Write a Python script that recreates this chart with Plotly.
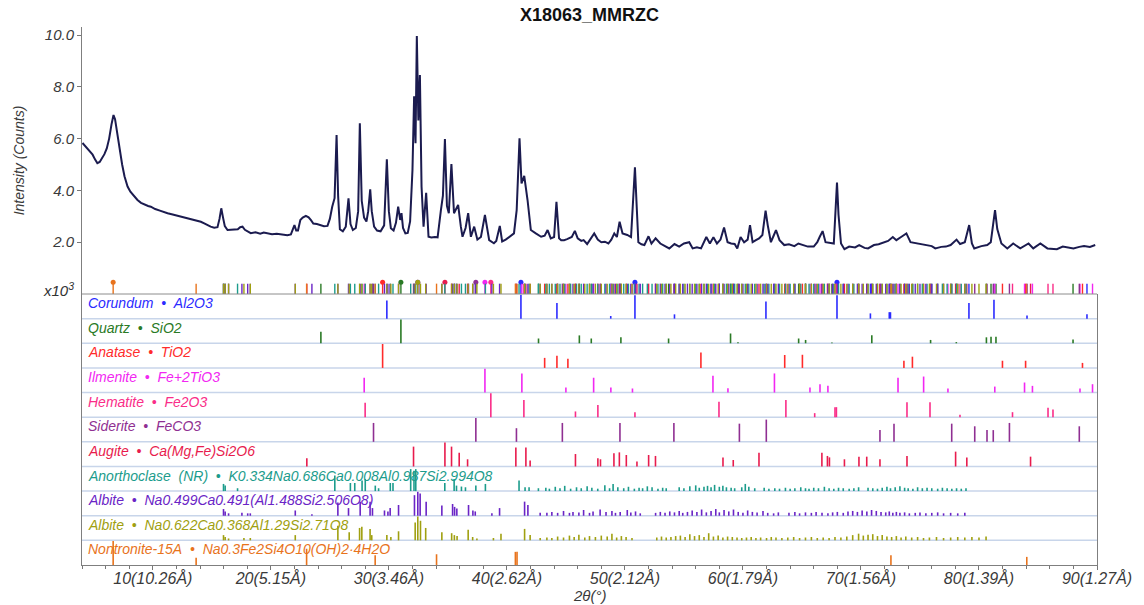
import plotly.graph_objects as go

# ---------------- measured pattern (2theta deg, counts x1000) ----------------
two_theta = [4.04, 4.3, 4.6, 4.9, 5.1, 5.3, 5.5, 5.7, 5.9, 6.1, 6.3, 6.5, 6.67, 6.8, 7.0, 7.2, 7.4, 7.6, 7.86,
             8.1, 8.4, 8.7, 9.0, 9.3, 9.6, 9.83, 10.2, 10.6, 11.0, 11.25, 11.6, 12.0, 12.3, 12.6, 13.0, 13.4,
             13.8, 14.07, 14.4, 14.7, 14.9, 15.2, 15.48, 15.65, 15.8, 15.95, 16.1, 16.33, 16.6, 16.9, 17.2,
             17.4, 17.6, 17.8, 18.0, 18.3, 18.7, 19.1, 19.4, 19.7, 20.1, 20.5, 20.85, 21.1, 21.4, 21.7, 21.85,
             22.0, 22.15, 22.3, 22.5, 22.7, 22.97, 23.2, 23.4, 23.6, 23.9, 24.2, 24.5, 24.8, 25.0, 25.2, 25.4,
             25.57, 25.7, 25.85, 26.1, 26.35, 26.58, 26.75, 26.95, 27.2, 27.4, 27.54, 27.7, 27.9, 28.1, 28.25,
             28.42, 28.55, 28.75, 29.0, 29.3, 29.6, 29.83, 30.0, 30.17, 30.4, 30.6, 30.79, 30.96, 31.07, 31.2,
             31.4, 31.6, 31.8, 32.0, 32.14, 32.26, 32.37, 32.5, 32.63, 32.77, 32.94, 33.16, 33.36, 33.6, 33.9,
             34.13, 34.41, 34.58, 34.75, 34.92, 35.08, 35.3, 35.52, 35.72, 35.87, 36.1, 36.24, 36.5, 36.72,
             36.95, 37.23, 37.5, 37.8, 38.14, 38.5, 38.9, 39.1, 39.4, 39.6, 39.9, 40.2, 40.6, 40.83, 41.07,
             41.24, 41.47, 41.75, 42.03, 42.45, 42.9, 43.2, 43.45, 43.72, 44.0, 44.2, 44.42, 44.6, 44.85, 45.1,
             45.5, 45.76, 46.0, 46.3, 46.5, 46.8, 47.1, 47.4, 47.7, 48.0, 48.3, 48.6, 48.85, 49.1, 49.32, 49.55,
             49.8, 50.2, 50.52, 50.85, 51.0, 51.14, 51.4, 51.65, 52.0, 52.25, 52.6, 53.0, 53.4, 53.76, 54.2,
             54.6, 55.0, 55.45, 55.74, 56.1, 56.45, 56.9, 57.2, 57.5, 57.8, 58.1, 58.4, 58.7, 59.0, 59.3,
             59.52, 59.8, 60.1, 60.4, 60.6, 60.82, 61.1, 61.37, 61.65, 61.92, 62.1, 62.37, 62.6, 62.8, 63.1,
             63.5, 63.9, 64.36, 64.7, 65.1, 65.5, 66.0, 66.3, 66.5, 66.75, 67.0, 67.4, 67.7, 67.97, 68.1,
             68.31, 68.6, 69.0, 69.5, 69.85, 70.3, 70.6, 71.1, 71.5, 71.95, 72.3, 72.7, 73.0, 73.4, 73.85,
             74.2, 74.9, 75.4, 76.0, 76.3, 76.8, 77.2, 77.6, 78.1, 78.4, 78.8, 79.17, 79.4, 79.6, 80.2, 80.7,
             81.0, 81.36, 81.55, 81.9, 82.4, 82.9, 83.5, 84.2, 84.6, 85.2, 85.8, 86.6, 87.1, 87.7, 88.0, 88.5,
             88.9, 89.4, 89.85]
counts_k = [5.83, 5.70, 5.52, 5.38, 5.20, 5.05, 5.10, 5.25, 5.40, 5.62, 6.00, 6.55, 6.91, 6.75, 6.10, 5.45, 5.00,
            4.55, 4.15, 3.95, 3.78, 3.63, 3.52, 3.45, 3.40, 3.37, 3.28, 3.22, 3.15, 3.12, 3.08, 3.03, 3.00, 2.98,
            2.93, 2.87, 2.83, 2.79, 2.72, 2.64, 2.60, 2.56, 2.58, 2.90, 3.31, 2.95, 2.62, 2.47, 2.48, 2.47, 2.50,
            2.58, 2.60, 2.48, 2.42, 2.35, 2.38, 2.33, 2.37, 2.35, 2.31, 2.33, 2.30, 2.28, 2.27, 2.30, 2.45, 2.66,
            2.45, 2.45, 2.86, 2.95, 3.02, 2.96, 2.85, 2.72, 2.70, 2.66, 2.62, 2.63, 2.90, 3.37, 3.70, 6.14, 3.80,
            2.50, 2.42, 2.60, 3.69, 2.70, 2.47, 2.55, 3.20, 6.59, 3.60, 2.95, 2.80, 3.20, 4.04, 3.20, 2.60, 2.45,
            2.42, 2.65, 5.20, 3.20, 2.54, 2.45, 2.75, 3.37, 2.86, 3.12, 2.55, 2.34, 2.36, 2.80, 4.79, 7.64, 5.82,
            9.96, 6.70, 8.46, 4.14, 2.60, 3.91, 2.21, 2.18, 2.20, 2.19, 3.24, 3.80, 5.98, 3.40, 3.12, 5.02, 3.12,
            3.30, 3.44, 2.60, 2.21, 2.55, 3.12, 2.21, 2.60, 2.10, 2.20, 3.05, 2.08, 1.96, 2.05, 2.63, 2.03, 2.10,
            2.20, 2.34, 3.24, 6.01, 4.27, 4.56, 3.63, 2.47, 2.34, 2.21, 2.25, 2.47, 2.15, 2.20, 3.56, 2.15, 2.08,
            2.08, 2.12, 2.20, 2.44, 2.15, 2.05, 2.08, 1.93, 2.15, 2.34, 2.10, 2.00, 2.02, 1.95, 2.10, 2.34, 2.20,
            2.79, 2.34, 2.28, 2.20, 4.89, 3.37, 2.00, 1.92, 1.89, 2.23, 1.95, 2.15, 1.95, 1.85, 1.76, 1.93, 1.83,
            1.95, 2.00, 1.76, 1.80, 1.76, 2.20, 1.95, 2.19, 1.95, 2.10, 2.57, 2.00, 1.95, 1.93, 1.76, 2.20, 2.00,
            2.10, 2.66, 2.00, 2.08, 2.15, 2.28, 3.22, 2.66, 2.00, 2.25, 2.47, 2.08, 1.89, 1.92, 1.85, 1.95, 1.88,
            1.83, 1.83, 2.00, 2.20, 2.43, 2.00, 1.98, 1.95, 4.30, 3.05, 1.95, 1.73, 1.83, 1.80, 1.89, 1.78, 1.76,
            1.89, 1.92, 2.00, 2.05, 2.20, 2.08, 2.20, 2.34, 2.00, 1.95, 1.89, 1.85, 1.76, 1.82, 1.83, 1.89, 2.10,
            1.93, 2.00, 2.66, 1.95, 1.76, 1.85, 1.89, 2.00, 3.24, 2.51, 1.95, 1.76, 1.95, 1.76, 1.95, 1.76, 1.95,
            1.76, 1.73, 1.83, 1.80, 1.76, 1.82, 1.85, 1.82, 1.89]

# ---------------- reference phase lines (2theta, relative intensity %) ----------------
corundum_2t = [29.83, 41.19, 44.24, 48.8, 50.85, 54.2, 61.95, 67.97, 70.8, 72.4, 72.5, 79.15, 81.27, 84.07, 89.15]
corundum_i = [76, 100, 65, 11, 98, 18, 72, 98, 22, 27, 27, 65, 79, 13, 18]

quartz_2t = [24.24, 31.02, 42.68, 46.14, 47.15, 49.66, 53.7, 58.95, 59.58, 64.72, 65.31, 67.54, 70.92, 75.9,
             78.08, 80.63, 81.02, 81.44, 87.97]
quartz_i = [48, 100, 20, 33, 20, 25, 20, 41, 4, 20, 14, 3, 34, 14, 5, 25, 27, 27, 16]

anatase_2t = [29.47, 43.2, 44.24, 45.17, 56.44, 63.54, 65.04, 73.64, 74.36, 81.99, 83.95, 88.77]
anatase_i = [100, 42, 51, 38, 65, 54, 55, 30, 47, 30, 30, 21]

ilmenite_2t = [27.91, 38.14, 41.27, 45.0, 47.35, 48.81, 50.64, 57.46, 58.73, 62.67, 65.68, 66.53, 67.2, 73.14,
               75.31, 77.37, 81.34, 83.86, 84.53, 88.56, 89.62]
ilmenite_i = [62, 100, 80, 21, 62, 21, 17, 70, 18, 80, 21, 35, 28, 62, 67, 17, 25, 42, 28, 17, 35]

hematite_2t = [27.99, 38.64, 41.44, 45.81, 47.71, 50.85, 57.97, 63.64, 66.08, 67.8, 67.92, 73.9, 75.85, 78.39,
               82.84, 85.85, 86.27]
hematite_i = [60, 100, 72, 24, 51, 21, 65, 72, 17, 42, 42, 62, 62, 10, 21, 39, 32]

siderite_2t = [28.70, 37.37, 40.81, 44.7, 49.58, 54.15, 59.7, 61.98, 71.61, 72.8, 77.69, 79.64, 80.68, 81.21,
               82.58, 88.5]
siderite_i = [79, 100, 57, 79, 79, 79, 76, 93, 49, 76, 76, 65, 49, 49, 79, 65]

augite_2t = [23.05, 32.09, 34.75, 35.31, 35.96, 36.67, 40.76, 41.61, 41.97, 45.81, 47.71, 47.93, 49.07, 49.53,
             50.12, 51.02, 52.01, 52.59, 58.31, 59.18, 61.36, 66.69, 67.16, 67.33, 68.6, 69.83, 70.49, 71.61,
             73.9, 78.02, 78.97, 84.37]
augite_i = [34, 83, 100, 83, 57, 30, 79, 79, 25, 52, 34, 30, 55, 59, 48, 21, 48, 44, 38, 27, 57, 57, 44, 38,
            30, 41, 41, 30, 44, 62, 38, 41]

anorthoclase_2t = [15.99, 16.13, 17.18, 25.42, 26.74, 27.11, 27.73, 28.0, 28.85, 29.13, 30.12, 30.35, 31.85,
                   32.13, 32.28, 34.74, 35.53, 35.73, 36.15, 36.49, 37.37, 38.18, 41.03, 41.54, 41.88, 42.67,
                   43.3, 43.6, 44.1, 44.5, 44.9, 45.4, 45.9, 46.3, 46.8, 47.2, 47.7, 48.3, 48.7, 49.0, 49.4,
                   49.9, 50.3, 50.8, 51.2, 51.5, 51.9, 52.3, 52.8, 53.2, 53.5, 54.6, 55.0, 55.5, 56.0, 56.3,
                   56.7, 57.0, 57.3, 57.6, 58.0, 58.3, 58.6, 59.0, 59.3, 59.9, 60.2, 60.5, 61.0, 61.8, 62.2,
                   62.7, 63.1, 63.6, 64.0, 64.4, 64.9, 65.3, 65.6, 66.0, 66.4, 66.9, 67.3, 67.7, 68.1, 68.5,
                   69.0, 69.4, 69.8, 70.6, 71.0, 71.4, 71.8, 72.2, 72.5, 72.9, 73.3, 73.7, 74.0, 74.4, 74.8,
                   75.2, 75.6, 76.0, 76.5, 76.9, 77.3, 77.7, 78.1, 78.5, 78.9, 79.3]
anorthoclase_i = [30, 23, 12, 65, 34, 34, 44, 51, 23, 12, 34, 34, 92, 85, 92, 34, 51, 23, 19, 16, 23, 30, 44,
                  16, 16, 12, 14, 10, 18, 12, 22, 10, 16, 12, 20, 14, 10, 24, 12, 30, 16, 12, 18, 10, 14, 12,
                  20, 16, 10, 14, 12, 16, 12, 20, 24, 14, 18, 22, 16, 26, 18, 22, 16, 14, 12, 16, 30, 18, 12,
                  14, 10, 12, 10, 14, 10, 12, 16, 12, 10, 14, 12, 18, 12, 10, 14, 12, 10, 12, 16, 14, 12, 10,
                  14, 18, 12, 16, 20, 14, 12, 10, 16, 12, 14, 12, 10, 14, 12, 10, 12, 10, 12]

albite1_2t = [15.99, 16.13, 16.42, 17.55, 18.04, 18.26, 22.07, 23.48, 25.68, 26.58, 27.57, 28.41, 28.61, 29.63,
              29.92, 30.11, 30.82, 32.17, 32.45, 32.65, 33.16, 34.49, 35.4, 35.57, 35.76, 36.75, 37.12, 37.32,
              38.73, 39.38, 41.5, 41.78, 42.82, 43.39, 43.81, 44.3, 44.8, 45.3, 45.6, 46.1, 46.5, 47.0, 47.3,
              47.9, 48.4, 48.9, 49.2, 49.6, 50.2, 50.5, 50.9, 51.3, 52.6, 53.0, 53.4, 53.8, 54.2, 54.6, 54.9,
              55.3, 55.7, 56.1, 56.5, 56.9, 57.3, 57.7, 58.0, 58.4, 58.8, 59.2, 59.6, 60.0, 60.4, 60.8, 61.2,
              61.7, 62.1, 62.6, 63.0, 63.9, 64.4, 64.8, 65.3, 65.8, 66.2, 66.7, 67.2, 67.6, 68.0, 68.5, 68.9,
              69.3, 69.7, 70.1, 70.5, 70.9, 71.3, 71.7, 72.1, 72.4, 72.7, 73.0, 73.3, 73.7, 74.1, 74.6, 75.0,
              75.5, 76.0, 76.5, 77.0, 77.6, 78.2, 78.8, 79.4]
albite1_i = [28, 18, 10, 12, 10, 10, 22, 6, 55, 32, 59, 59, 32, 22, 18, 32, 45, 86, 100, 93, 59, 43, 49, 37, 30,
             45, 22, 18, 10, 32, 59, 45, 12, 12, 16, 12, 20, 12, 16, 14, 24, 12, 18, 26, 16, 20, 12, 16, 24,
             14, 18, 10, 12, 16, 12, 18, 14, 20, 12, 16, 22, 16, 26, 14, 20, 28, 14, 24, 18, 26, 16, 12, 22,
             16, 14, 20, 12, 10, 14, 12, 16, 10, 14, 12, 16, 12, 10, 14, 16, 12, 18, 20, 16, 22, 18, 24, 20,
             16, 14, 18, 12, 16, 12, 14, 10, 12, 14, 10, 12, 14, 10, 12, 10, 12]

albite2_2t = [15.99, 16.13, 16.42, 17.72, 18.26, 22.07, 25.68, 26.64, 27.52, 27.71, 28.41, 28.55, 29.83,
              30.17, 30.82, 32.23, 32.45, 32.68, 33.12, 34.49, 35.32, 35.55, 35.78, 36.72, 37.1, 37.46, 38.86,
              39.5, 41.5, 41.97, 42.82, 43.39, 43.81, 44.3, 44.8, 45.3, 45.7, 46.1, 46.6, 47.0, 47.5, 48.0,
              48.5, 48.9, 49.3, 49.7, 50.1, 50.6, 52.7, 53.1, 53.5, 53.9, 54.3, 54.7, 55.1, 55.5, 55.9, 56.3,
              56.7, 57.1, 57.5, 57.9, 58.3, 58.7, 59.1, 59.5, 59.9, 60.3, 60.7, 61.1, 61.5, 62.0, 62.4, 62.8,
              63.3, 63.8, 64.3, 64.8, 65.3, 65.8, 66.3, 66.8, 67.3, 67.8, 68.3, 68.8, 69.3, 69.8, 70.2, 70.6,
              71.0, 71.4, 71.8, 72.2, 72.6, 73.0, 73.4, 73.8, 74.3, 74.8, 75.3, 75.8, 76.4, 77.0, 77.6, 78.2,
              78.8, 79.4, 80.0, 80.6]
albite2_i = [22, 14, 8, 10, 10, 22, 61, 34, 52, 57, 48, 22, 22, 14, 38, 75, 100, 82, 52, 34, 30, 22, 18, 44,
             14, 8, 10, 28, 48, 22, 10, 12, 10, 16, 12, 20, 14, 24, 12, 18, 14, 20, 16, 28, 12, 18, 14, 10,
             12, 16, 12, 14, 18, 20, 14, 26, 18, 22, 14, 30, 16, 20, 12, 16, 14, 12, 10, 12, 14, 10, 12, 10,
             14, 12, 10, 12, 14, 10, 12, 14, 10, 12, 10, 14, 12, 16, 22, 28, 20, 24, 26, 18, 22, 16, 14, 18,
             12, 16, 12, 14, 10, 12, 14, 10, 12, 14, 12, 14, 12, 16]

nontronite_2t = [6.64, 13.67, 23.03, 28.84, 34.04, 40.72, 40.86, 72.54, 84.05]
nontronite_i = [100, 30, 68, 41, 45, 55, 55, 41, 34]

phase_names = ["Corundum", "Quartz", "Anatase", "Ilmenite", "Hematite", "Siderite", "Augite",
               "Anorthoclase\u00a0\u00a0(NR)", "Albite", "Albite", "Nontronite-15A"]
phase_formulas = ["Al2O3", "SiO2", "TiO2", "Fe+2TiO3", "Fe2O3", "FeCO3", "Ca(Mg,Fe)Si2O6",
                  "K0.334Na0.686Ca0.008Al0.987Si2.994O8", "Na0.499Ca0.491(Al1.488Si2.506O8)",
                  "Na0.622Ca0.368Al1.29Si2.71O8", "Na0.3Fe2Si4O10(OH)2\u00b74H2O"]
phase_colors = ["#2b2bff", "#2a7a25", "#ff2b2b", "#f227f2", "#fa2d88", "#8f2f92", "#e81b4d",
                "#1c9c8c", "#6a24c6", "#a0a010", "#e8731c"]
phase_lines = [(corundum_2t, corundum_i), (quartz_2t, quartz_i), (anatase_2t, anatase_i),
               (ilmenite_2t, ilmenite_i), (hematite_2t, hematite_i), (siderite_2t, siderite_i),
               (augite_2t, augite_i), (anorthoclase_2t, anorthoclase_i), (albite1_2t, albite1_i),
               (albite2_2t, albite2_i), (nontronite_2t, nontronite_i)]

x_tickvals = [10, 20, 30, 40, 50, 60, 70, 80, 90]
x_ticktext = ["10(10.26Å)", "20(5.15Å)", "30(3.46Å)", "40(2.62Å)", "50(2.12Å)", "60(1.79Å)",
              "70(1.56Å)", "80(1.39Å)", "90(1.27Å)"]
y_tickvals = [2, 4, 6, 8, 10]
y_ticktext = ["2.0", "4.0", "6.0", "8.0", "10.0"]

# ---------------- figure ----------------
N = len(phase_names)
split = 0.5037
font_fam = "Liberation Sans, Arial, sans-serif"
fig = go.Figure()

# main pattern
fig.add_trace(go.Scatter(x=two_theta, y=counts_k, mode="lines", xaxis="x", yaxis="y",
                         line=dict(color="#1b1b4f", width=2), hoverinfo="skip"))

strip_h = 0.40
for i, (tt, ii) in enumerate(phase_lines):
    base = N - 1 - i
    xs, ys, sx, sy = [], [], [], []
    for t, v in zip(tt, ii):
        xs += [t, t, None]
        ys += [base, base + v / 100 * 0.97, None]
        sx += [t, t, None]
        sy += [0, strip_h, None]
    col = phase_colors[i]
    fig.add_trace(go.Scatter(x=xs, y=ys, mode="lines", xaxis="x", yaxis="y2",
                             line=dict(color=col, width=1.6), hoverinfo="skip"))
    fig.add_trace(go.Scatter(x=sx, y=sy, mode="lines", xaxis="x", yaxis="y",
                             line=dict(color=col, width=1.4), hoverinfo="skip"))
    top = [t for t, v in zip(tt, ii) if v >= 97]
    if top:
        fig.add_trace(go.Scatter(x=top, y=[strip_h + 0.05] * len(top), mode="markers", xaxis="x", yaxis="y",
                                 marker=dict(color=col, size=5), hoverinfo="skip"))

annotations = []
for i in range(N):
    base = N - 1 - i
    annotations.append(dict(
        xref="paper", yref="y2", x=0.004, y=base + 0.63, xanchor="left", yanchor="middle",
        text=phase_names[i] + "\u00a0\u00a0\u2022\u00a0\u00a0" + phase_formulas[i], showarrow=False,
        font=dict(family=font_fam, size=14, color=phase_colors[i], style="italic")))

annotations.append(dict(xref="paper", yref="paper", x=0.5, y=1.0, yshift=12, xanchor="center", yanchor="middle",
                        text="<b>X18063_MMRZC</b>", showarrow=False,
                        font=dict(family=font_fam, size=18, color="#111111")))
annotations.append(dict(xref="paper", yref="y", x=0, xshift=-6, y=0.18, xanchor="right", yanchor="middle",
                        text="x10<sup>3</sup>", showarrow=False,
                        font=dict(family=font_fam, size=15, color="#333333", style="italic")))
annotations.append(dict(xref="paper", yref="paper", x=0.5, y=0, yshift=-30, xanchor="center", yanchor="middle",
                        text="2θ(°)", showarrow=False,
                        font=dict(family=font_fam, size=15, color="#3a3a3a", style="italic")))

shapes = []
for k in range(1, N):
    shapes.append(dict(type="line", xref="paper", yref="y2", x0=0, x1=1, y0=k, y1=k,
                       line=dict(color="#c8d5ea", width=1.5), layer="below"))
shapes.append(dict(type="line", xref="paper", yref="paper", x0=0, x1=1, y0=split, y1=split,
                   line=dict(color="#8c8c8c", width=1)))

fig.update_layout(
    width=1144, height=605, autosize=False,
    margin=dict(l=82, r=47, t=27, b=40, autoexpand=False),
    paper_bgcolor="white", plot_bgcolor="white",
    showlegend=False,
    font=dict(family=font_fam, color="#333333"),
    xaxis=dict(range=[4.0, 90.0], anchor="y2", tickvals=x_tickvals, ticktext=x_ticktext, automargin=False,
               ticks="outside", ticklen=4, tickcolor="#777777", showgrid=False, zeroline=False,
               showline=True, linecolor="#7f7f7f", linewidth=1, ticklabelstandoff=-5,
               minor=dict(dtick=2, tick0=0, ticks="outside", ticklen=3, tickcolor="#777777"),
               tickfont=dict(size=16, style="italic", color="#3a3a3a")),
    yaxis=dict(domain=[split, 1.0], range=[0, 10.31], anchor="x", tickvals=y_tickvals, ticktext=y_ticktext,
               ticks="outside", ticklen=4, tickcolor="#777777", showgrid=False, zeroline=False,
               showline=True, linecolor="#7f7f7f", linewidth=1, automargin=False,
               tickfont=dict(size=15, style="italic", color="#3a3a3a"),
               title=dict(text="Intensity (Counts)", font=dict(size=14, style="italic", color="#3a3a3a"),
                          standoff=16)),
    yaxis2=dict(domain=[0, split], range=[0, N], anchor="x", showticklabels=False, ticks="",
                showgrid=False, zeroline=False, showline=True, mirror=True, automargin=False,
                linecolor="#7f7f7f", linewidth=1),
    annotations=annotations, shapes=shapes,
)

fig.write_html("out.html")
